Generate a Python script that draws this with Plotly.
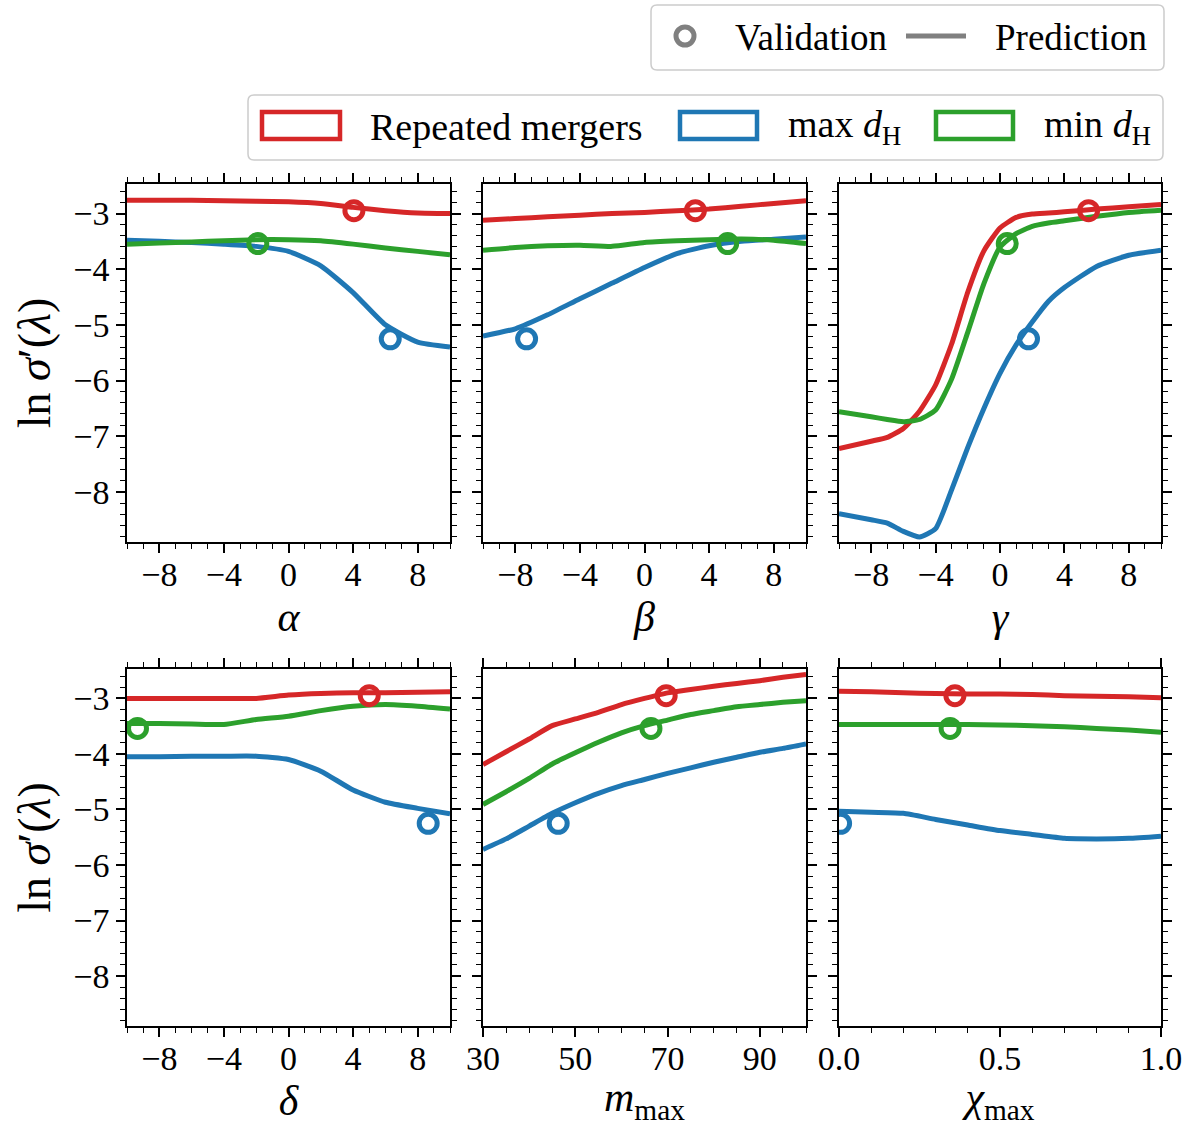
import plotly.graph_objects as go
from plotly.subplots import make_subplots

W, H = 1196, 1126
RED, BLUE, GREEN, GRAY = '#d62728', '#1f77b4', '#2ca02c', '#808080'
FONT = 'Liberation Serif, DejaVu Serif, serif'

# ---------------- data ----------------
alpha_x = [-10, -8, -6, -4, -2, 0, 2, 4, 6, 8, 10]
alpha_red = [-2.76, -2.76, -2.76, -2.77, -2.78, -2.79, -2.82, -2.89, -2.95, -2.99, -3.00]
alpha_blue = [-3.48, -3.50, -3.52, -3.55, -3.59, -3.68, -3.94, -4.42, -5.00, -5.31, -5.40]
alpha_green = [-3.55, -3.53, -3.51, -3.49, -3.47, -3.47, -3.49, -3.55, -3.62, -3.68, -3.74]

beta_x = [-10, -8, -6, -4, -2, 0, 2, 4, 6, 8, 10]
beta_red = [-3.12, -3.09, -3.06, -3.03, -3.00, -2.98, -2.95, -2.92, -2.87, -2.82, -2.77]
beta_blue = [-5.20, -5.07, -4.82, -4.53, -4.25, -3.97, -3.72, -3.58, -3.50, -3.46, -3.42]
beta_green = [-3.66, -3.61, -3.58, -3.57, -3.59, -3.52, -3.49, -3.47, -3.46, -3.48, -3.54]

gamma_x = [-10, -8, -7, -6, -5, -4, -3, -2, -1, 0, 1, 2, 3, 4, 6, 8, 10]
gamma_red = [-7.22, -7.09, -7.02, -6.86, -6.55, -6.08, -5.34, -4.41, -3.67, -3.26, -3.07, -3.01, -2.99, -2.97, -2.92, -2.88, -2.84]
gamma_blue = [-8.39, -8.50, -8.56, -8.71, -8.81, -8.66, -7.96, -7.20, -6.50, -5.87, -5.36, -4.95, -4.58, -4.33, -3.95, -3.75, -3.66]
gamma_green = [-6.56, -6.65, -6.70, -6.74, -6.70, -6.53, -5.97, -5.13, -4.26, -3.60, -3.36, -3.23, -3.17, -3.13, -3.05, -2.98, -2.94]

delta_x = [-10, -8, -6, -4, -2, 0, 2, 4, 6, 8, 10]
delta_red = [-3.00, -3.00, -3.00, -3.00, -3.00, -2.94, -2.91, -2.90, -2.90, -2.89, -2.88]
delta_blue = [-4.05, -4.05, -4.04, -4.04, -4.04, -4.10, -4.31, -4.65, -4.87, -4.98, -5.08]
delta_green = [-3.45, -3.45, -3.46, -3.47, -3.38, -3.32, -3.22, -3.14, -3.11, -3.14, -3.19]

mmax_x = [30, 35, 40, 45, 50, 55, 60, 65, 70, 75, 80, 85, 90, 95, 100]
mmax_red = [-4.19, -3.96, -3.73, -3.49, -3.37, -3.25, -3.11, -3.00, -2.90, -2.84, -2.78, -2.73, -2.68, -2.62, -2.57]
mmax_blue = [-5.72, -5.53, -5.30, -5.07, -4.88, -4.71, -4.57, -4.46, -4.35, -4.25, -4.15, -4.06, -3.97, -3.90, -3.82]
mmax_green = [-4.91, -4.68, -4.44, -4.18, -3.98, -3.79, -3.62, -3.49, -3.39, -3.29, -3.22, -3.15, -3.11, -3.07, -3.04]

chi_x = [0.0, 0.1, 0.2, 0.3, 0.4, 0.5, 0.6, 0.7, 0.8, 0.9, 1.0]
chi_red = [-2.87, -2.88, -2.90, -2.91, -2.92, -2.92, -2.93, -2.95, -2.96, -2.97, -2.99]
chi_blue = [-5.03, -5.05, -5.07, -5.18, -5.28, -5.38, -5.45, -5.52, -5.53, -5.52, -5.48]
chi_green = [-3.47, -3.47, -3.47, -3.47, -3.47, -3.48, -3.49, -3.51, -3.54, -3.57, -3.61]

# validation points: one per colour, x position per parameter
val_red_y, val_blue_y, val_green_y = -2.95, -5.25, -3.54
val_red_x = [4.05, 3.15, 5.5, 5.0, 69.7, 0.36]
val_blue_x = [6.3, -7.3, 1.77, 8.65, 46.3, 0.005]
val_green_x = [-1.9, 5.15, 0.45, -9.35, 66.4, 0.345]

param_labels = ['<i>α</i>', '<i>β</i>', '<i>γ</i>', '<i>δ</i>',
                '<i>m</i><sub>max</sub>', '<i>χ</i><sub>max</sub>']
ylabel = 'ln <i>σ</i>′(<i>λ</i>)'
legend_series = ['Repeated mergers', 'max <i>d</i><sub>H</sub>', 'min <i>d</i><sub>H</sub>']
legend_kinds = ['Validation', 'Prediction']

panels = [
    (alpha_x, alpha_red, alpha_blue, alpha_green),
    (beta_x, beta_red, beta_blue, beta_green),
    (gamma_x, gamma_red, gamma_blue, gamma_green),
    (delta_x, delta_red, delta_blue, delta_green),
    (mmax_x, mmax_red, mmax_blue, mmax_green),
    (chi_x, chi_red, chi_blue, chi_green),
]

x_ranges = [[-10, 10]] * 4 + [[30, 100], [0, 1]]
x_ticks = [dict(tick0=0, dtick=4, minor=1)] * 4 + [dict(tick0=30, dtick=20, minor=5),
                                                    dict(tick0=0, dtick=0.5, minor=0.1)]

fig = make_subplots(rows=2, cols=3)

for i, (px_, r_, b_, g_) in enumerate(panels):
    row, col = i // 3 + 1, i % 3 + 1
    for yv, c in [(r_, RED), (b_, BLUE), (g_, GREEN)]:
        fig.add_trace(go.Scatter(x=px_, y=yv, mode='lines',
                                 line=dict(color=c, width=5, shape='spline', smoothing=0.5),
                                 showlegend=False, hoverinfo='skip'), row=row, col=col)
    for xv, yv, c in [(val_red_x[i], val_red_y, RED), (val_blue_x[i], val_blue_y, BLUE),
                      (val_green_x[i], val_green_y, GREEN)]:
        fig.add_trace(go.Scatter(x=[xv], y=[yv], mode='markers',
                                 marker=dict(symbol='circle-open', size=18, color=c,
                                             line=dict(width=5, color=c)),
                                 showlegend=False, hoverinfo='skip'), row=row, col=col)

xdoms = [[127 / W, 450 / W], [483 / W, 806 / W], [839 / W, 1161 / W]]
ydoms = [[1 - 542 / H, 1 - 184 / H], [1 - 1026 / H, 1 - 669 / H]]

axis_common = dict(showgrid=False, zeroline=False, showline=True, linecolor='black',
                   linewidth=1.5, mirror='ticks', ticks='outside', ticklen=9, tickwidth=1.5,
                   tickcolor='black', automargin=False,
                   tickfont=dict(family=FONT, size=34, color='black'))

for i in range(6):
    row, col = i // 3, i % 3
    n = '' if i == 0 else str(i + 1)
    xt = x_ticks[i]
    xa = dict(axis_common, domain=xdoms[col], range=x_ranges[i], tickmode='linear',
              tick0=xt['tick0'], dtick=xt['dtick'], ticklabelstandoff=-8,
              minor=dict(ticks='outside', ticklen=5, tickwidth=1, tickcolor='black',
                         dtick=xt['minor'], tick0=xt['tick0']),
              title=dict(text=param_labels[i], font=dict(family=FONT, size=42, color='black'),
                         standoff=10))
    if i == 5:
        xa['tickformat'] = '.1f'
    ya = dict(axis_common, domain=ydoms[row], range=[-8.9, -2.47], tickmode='linear',
              tick0=0, dtick=1, showticklabels=(col == 0),
              minor=dict(ticks='outside', ticklen=5, tickwidth=1, tickcolor='black',
                         dtick=0.2, tick0=0))
    if col == 0:
        ya['title'] = dict(text=ylabel, font=dict(family=FONT, size=46, color='black'), standoff=8)
    fig.layout['xaxis' + n].update(xa)
    fig.layout['yaxis' + n].update(ya)


# ---------------- legends (drawn in pixel space) ----------------
def px(x):
    return x / W


def py(y):
    return 1 - y / H


def rounded_box(x0, y0, x1, y1, r=6):
    rx, ry = r / W, r / H
    X0, X1, Y0, Y1 = px(x0), px(x1), py(y0), py(y1)  # Y0 is top
    path = (f'M{X0 + rx},{Y0} L{X1 - rx},{Y0} Q{X1},{Y0} {X1},{Y0 - ry} '
            f'L{X1},{Y1 + ry} Q{X1},{Y1} {X1 - rx},{Y1} L{X0 + rx},{Y1} '
            f'Q{X0},{Y1} {X0},{Y1 + ry} L{X0},{Y0 - ry} Q{X0},{Y0} {X0 + rx},{Y0} Z')
    return dict(type='path', xref='paper', yref='paper', path=path,
                line=dict(color='#cccccc', width=1.5), fillcolor='white', layer='above')


shapes = [rounded_box(651, 5, 1164, 70), rounded_box(248, 95, 1163, 160)]
# validation symbol
shapes.append(dict(type='circle', xref='paper', yref='paper', x0=px(676), x1=px(694),
                   y0=py(45), y1=py(27), line=dict(color=GRAY, width=5), layer='above'))
# prediction symbol
shapes.append(dict(type='line', xref='paper', yref='paper', x0=px(906), x1=px(966),
                   y0=py(36), y1=py(36), line=dict(color=GRAY, width=5), layer='above'))
# series patches
for (x0, x1), c in zip([(262, 340), (680, 757), (936, 1013)], [RED, BLUE, GREEN]):
    shapes.append(dict(type='rect', xref='paper', yref='paper', x0=px(x0), x1=px(x1),
                       y0=py(139), y1=py(112), line=dict(color=c, width=4.5),
                       fillcolor='white', layer='above'))

annotations = list(fig.layout.annotations)
for txt, x in zip(legend_kinds, [733, 993]):
    annotations.append(dict(text=txt, x=px(x), y=py(37), xref='paper', yref='paper',
                            xanchor='left', yanchor='middle', showarrow=False,
                            font=dict(family=FONT, size=37, color='black')))
for txt, x in zip(legend_series, [368, 786, 1042]):
    annotations.append(dict(text=txt, x=px(x), y=py(127), xref='paper', yref='paper',
                            xanchor='left', yanchor='middle', showarrow=False,
                            font=dict(family=FONT, size=38, color='black')))

fig.update_layout(width=W, height=H, margin=dict(l=0, r=0, t=0, b=0, autoexpand=False),
                  paper_bgcolor='white', plot_bgcolor='white', showlegend=False,
                  shapes=shapes, annotations=annotations,
                  font=dict(family=FONT, color='black'))

fig.write_html('out.html')
